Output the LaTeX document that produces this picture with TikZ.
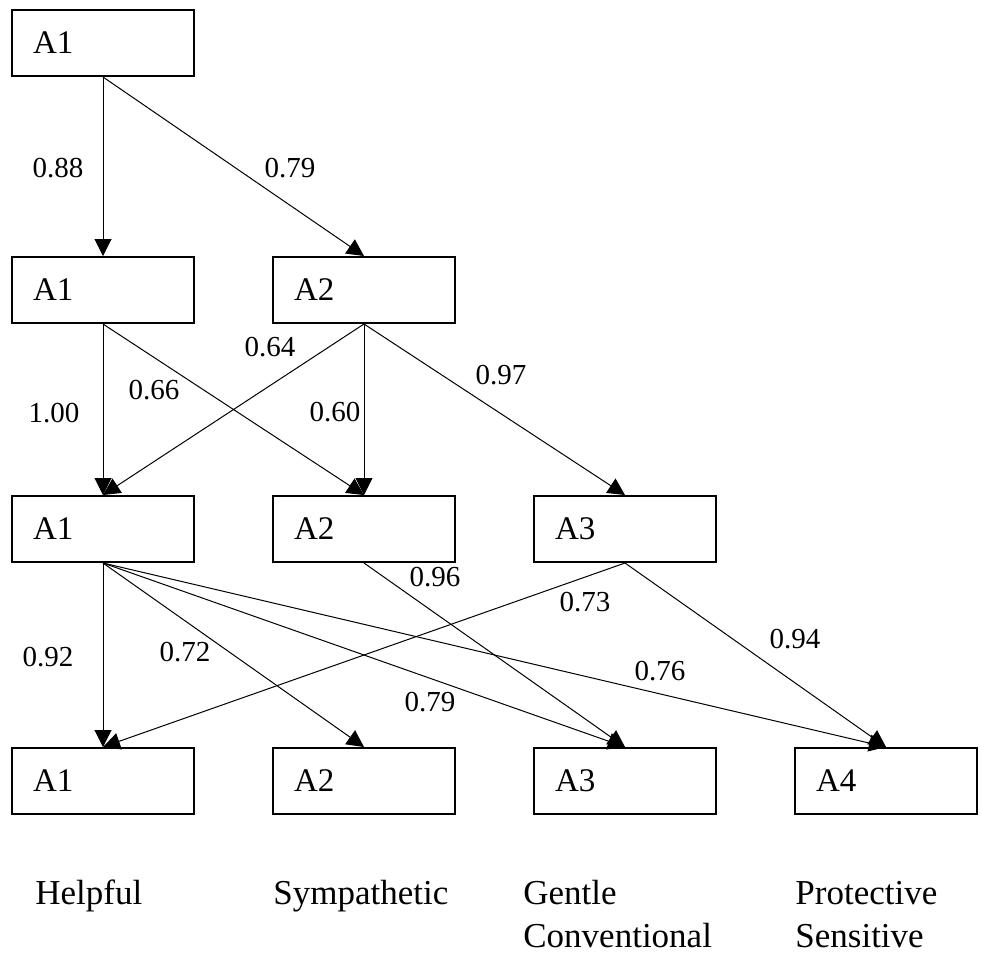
\documentclass[tikz,border=0pt]{standalone}
\usepackage{fontspec}
\setmainfont{Liberation Serif}
\usetikzlibrary{arrows.meta,positioning,shapes}

\tikzset{
  box/.style={draw,rectangle,line width=1pt,minimum width=91pt,minimum height=33pt,
    inner xsep=10.5pt,text width=70pt,align=left,font=\fontsize{16.5}{18}\selectfont},
  arr/.style={-{Triangle[length=8.5pt,width=8.5pt]},line width=0.5pt},
  wt/.style={inner sep=0pt,font=\fontsize{14.5}{16}\selectfont},
  trait/.style={inner sep=0pt,anchor=base west,align=left,font=\fontsize{17.5}{21.5}\selectfont}
}

\begin{document}
\begin{tikzpicture}[x=0.5pt,y=-0.5pt]
\useasboundingbox (0,0) rectangle (981,960);
% boxes
\node[box] (a1) at (103,43) {A1};
\node[box] (b1) at (103,290) {A1};
\node[box] (b2) at (364,290) {A2};
\node[box] (c1) at (103,529) {A1};
\node[box] (c2) at (364,529) {A2};
\node[box] (c3) at (625,529) {A3};
\node[box] (d1) at (103,781) {A1};
\node[box] (d2) at (364,781) {A2};
\node[box] (d3) at (625,781) {A3};
\node[box] (d4) at (886,781) {A4};
% paths
\draw[arr] (a1.south) -- (b1.north);
\draw[arr] (a1.south) -- (b2.north);
\draw[arr] (b1.south) -- (c1.north);
\draw[arr] (b1.south) -- (c2.north);
\draw[arr] (b2.south) -- (c1.north);
\draw[arr] (b2.south) -- (c2.north);
\draw[arr] (b2.south) -- (c3.north);
\draw[arr] (c1.south) -- (d1.north);
\draw[arr] (c1.south) -- (d2.north);
\draw[arr] (c1.south) -- (d3.north);
\draw[arr] (c1.south) -- (d4.north);
\draw[arr] (c2.south) -- (d3.north);
\draw[arr] (c3.south) -- (d1.north);
\draw[arr] (c3.south) -- (d4.north);
% weights
\node[wt] (w1) at (58,168) {0.88};
\node[wt] (w2) at (290,168) {0.79};
\node[wt] (w3) at (54,413) {1.00};
\node[wt] (w4) at (154,390) {0.66};
\node[wt] (w5) at (270,347) {0.64};
\node[wt] (w6) at (335,412) {0.60};
\node[wt] (w7) at (501,375) {0.97};
\node[wt] (w8) at (435,577) {0.96};
\node[wt] (w9) at (585,602) {0.73};
\node[wt] (w10) at (795,639) {0.94};
\node[wt] (w11) at (48,657) {0.92};
\node[wt] (w12) at (185,652) {0.72};
\node[wt] (w13) at (430,702) {0.79};
\node[wt] (w14) at (660,671) {0.76};
% traits
\node[trait] (t1) at (35,904) {Helpful};
\node[trait] (t2) at (273,904) {Sympathetic};
\node[trait] (t3) at (523,947) {Gentle\\Conventional};
\node[trait] (t4) at (795,947) {Protective\\Sensitive};
\end{tikzpicture}
\end{document}
